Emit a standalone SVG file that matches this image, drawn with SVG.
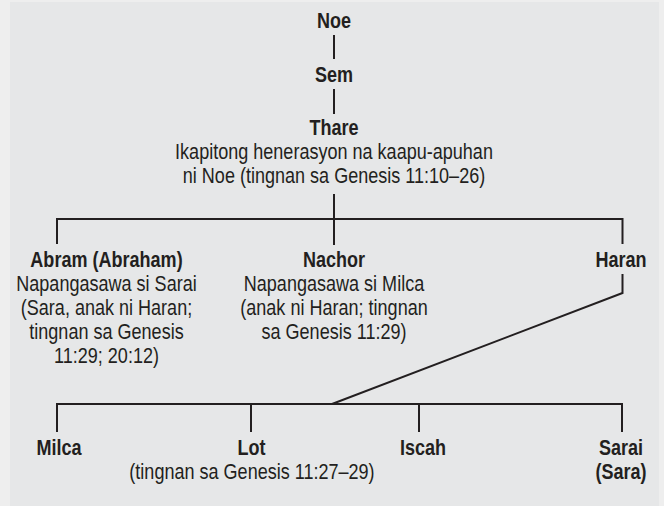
<svg xmlns="http://www.w3.org/2000/svg" width="664" height="506" viewBox="0 0 664 506">
<style>
text{font-family:"Liberation Sans",Arial,sans-serif;font-size:22px;fill:#231f20;text-anchor:middle}
.b{font-weight:bold}
.c path,.c line{stroke:#231f20;stroke-width:2;fill:none}
</style>
<rect x="0" y="0" width="664" height="506" fill="#eeeeee"/>
<rect x="10" y="2" width="649" height="504" fill="#e6e7e8"/>
<g class="c" id="connectors">
<line x1="334" y1="35" x2="334" y2="59"/>
<line x1="334" y1="89" x2="334" y2="114"/>
<line x1="334" y1="194" x2="334" y2="245"/>
<path d="M57 244V219H622.5V244"/>
<path d="M622.5 274V293L332 404"/>
<path d="M57 432V404H622V432"/>
<line x1="251" y1="404" x2="251" y2="432"/>
<line x1="419" y1="404" x2="419" y2="432"/>
</g>
<g id="noe" transform="scale(0.82 1)"><text class="b" x="407.32" y="28">Noe</text></g>
<g id="sem" transform="scale(0.82 1)"><text class="b" x="407.32" y="82">Sem</text></g>
<g id="thare" transform="scale(0.82 1)"><text class="b" x="407.32" y="135">Thare</text>
<text x="407.32" y="159">Ikapitong henerasyon na kaapu-apuhan</text>
<text x="407.32" y="183">ni Noe (tingnan sa Genesis 11:10–26)</text></g>
<g id="abram" transform="scale(0.82 1)"><text class="b" x="129.88" y="267">Abram (Abraham)</text>
<text x="129.88" y="291">Napangasawa si Sarai</text>
<text x="129.88" y="315">(Sara, anak ni Haran;</text>
<text x="129.88" y="339">tingnan sa Genesis</text>
<text x="129.88" y="363">11:29; 20:12)</text></g>
<g id="nachor" transform="scale(0.82 1)"><text class="b" x="407.32" y="267">Nachor</text>
<text x="407.32" y="291">Napangasawa si Milca</text>
<text x="407.32" y="315">(anak ni Haran; tingnan</text>
<text x="407.32" y="339">sa Genesis 11:29)</text></g>
<g id="haran" transform="scale(0.82 1)"><text class="b" x="757.32" y="267">Haran</text></g>
<g id="milca" transform="scale(0.82 1)"><text class="b" x="71.95" y="455">Milca</text></g>
<g id="lot" transform="scale(0.82 1)"><text class="b" x="306.71" y="455">Lot</text>
<text x="307.32" y="479">(tingnan sa Genesis 11:27–29)</text></g>
<g id="iscah" transform="scale(0.82 1)"><text class="b" x="515.85" y="455">Iscah</text></g>
<g id="sarai" transform="scale(0.82 1)"><text class="b" x="757.32" y="455">Sarai</text>
<text class="b" x="757.32" y="479">(Sara)</text></g>
</svg>
